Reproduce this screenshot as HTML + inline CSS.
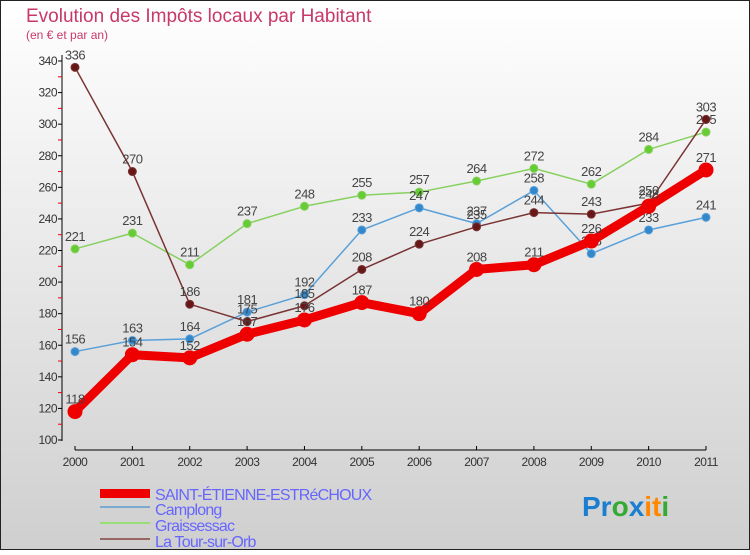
<!DOCTYPE html>
<html><head><meta charset="utf-8"><style>
body{margin:0;width:750px;height:550px;overflow:hidden;font-family:"Liberation Sans",sans-serif}
</style></head><body>
<svg id="c" width="750" height="550" xmlns="http://www.w3.org/2000/svg">
<defs><linearGradient id="bg" x1="0" y1="0" x2="0" y2="1"><stop offset="0" stop-color="#ffffff"/><stop offset="1" stop-color="#cfcfcf"/></linearGradient></defs>
<rect x="0.5" y="0.5" width="749" height="549" fill="url(#bg)" stroke="#222"/>
<text x="26" y="22" font-size="19" fill="#c8386a">Evolution des Impôts locaux par Habitant</text>
<text x="26" y="39" font-size="12" fill="#c8386a">(en € et par an)</text>
<g id="axes"></g><g id="series"></g>
<g font-size="16" fill="#6666ff" letter-spacing="-0.8">
<rect x="100" y="489" width="50" height="9" fill="#ee0000"/>
<text x="155" y="500">SAINT-ÉTIENNE-ESTRéCHOUX</text>
<line x1="100" y1="507" x2="150" y2="507" stroke="#7aaad0" stroke-width="2"/>
<text x="155" y="515">Camplong</text>
<line x1="100" y1="523" x2="150" y2="523" stroke="#99dd77" stroke-width="2"/>
<text x="155" y="531">Graissessac</text>
<line x1="100" y1="539" x2="150" y2="539" stroke="#996666" stroke-width="2"/>
<text x="155" y="547">La Tour-sur-Orb</text>
</g>
<text x="582" y="516" font-size="28" font-weight="bold"><tspan fill="#1a7fd0">Pr</tspan><tspan fill="#33aa33">o</tspan><tspan fill="#1a7fd0">x</tspan><tspan fill="#ff8800">it</tspan><tspan fill="#33aa33">i</tspan></text>
</svg>
<script>
const years=["2000","2001","2002","2003","2004","2005","2006","2007","2008","2009","2010","2011"];
const yTicks=[100,120,140,160,180,200,220,240,260,280,300,320,340];
const saint=[118,154,152,167,176,187,180,208,211,226,248,271];
const camplong=[156,163,164,181,192,233,247,237,258,218,233,241];
const graissessac=[221,231,211,237,248,255,257,264,272,262,284,295];
const tour=[336,270,186,175,185,208,224,235,244,243,250,303];
const NS="http://www.w3.org/2000/svg";
const X=i=>75+i*(631/11), Y=v=>61+(340-v)*379/240;
function mk(t,a,p){const e=document.createElementNS(NS,t);for(const k in a)e.setAttribute(k,a[k]);p.appendChild(e);return e;}
const ax=document.getElementById('axes');
const yl=mk('line',{x1:62,y1:55,x2:62,y2:441,stroke:'#000'},ax);


yTicks.forEach((v,i)=>{
 mk('line',{x1:58,y1:Y(v),x2:62,y2:Y(v),stroke:'#000'},ax);
 if(i<yTicks.length-1) mk('line',{x1:58,y1:Y(v+10),x2:62,y2:Y(v+10),stroke:'#e00'},ax);
 const t=mk('text',{x:57,y:Y(v)+4,'text-anchor':'end','font-size':12,fill:'#333','letter-spacing':'-0.5'},ax);
 t.textContent=v;
 
 
});
const xl=mk('line',{x1:75,y1:450,x2:706,y2:450,stroke:'#000'},ax);


years.forEach((y,i)=>{
 mk('line',{x1:X(i),y1:446,x2:X(i),y2:450,stroke:'#000'},ax);
 const t=mk('text',{x:X(i),y:466,'text-anchor':'middle','font-size':12,fill:'#333','letter-spacing':'-0.5'},ax);
 t.textContent=y;
 
 
});
const sg=document.getElementById('series');
function series(d,name,lc,pc,w,r){
 const g=mk('g',{},sg);
 
 
 mk('polyline',{points:d.map((v,i)=>X(i)+','+Y(v)).join(' '),fill:'none',stroke:lc,'stroke-width':w,'stroke-linejoin':'round'},g);
 d.forEach((v,i)=>{
  const c=mk('circle',{cx:X(i),cy:Y(v),r:r,fill:pc,stroke:lc,'stroke-width':1},g);
  
  
  const t=mk('text',{x:X(i),y:Y(v)-8,'text-anchor':'middle','font-size':13,fill:'#444','letter-spacing':'-0.5'},g);
  t.textContent=v;
  
  
 });
}
series(graissessac,'graissessac','#88d060','#66cc33',1.5,4);
series(camplong,'camplong','#5aa0d8','#3388cc',1.5,4);
series(tour,'la-tour-sur-orb','#7a3333','#661818',1.5,4);
series(saint,'saint-etienne','#ee0000','#ee0000',9,7);
</script>
</body></html>
